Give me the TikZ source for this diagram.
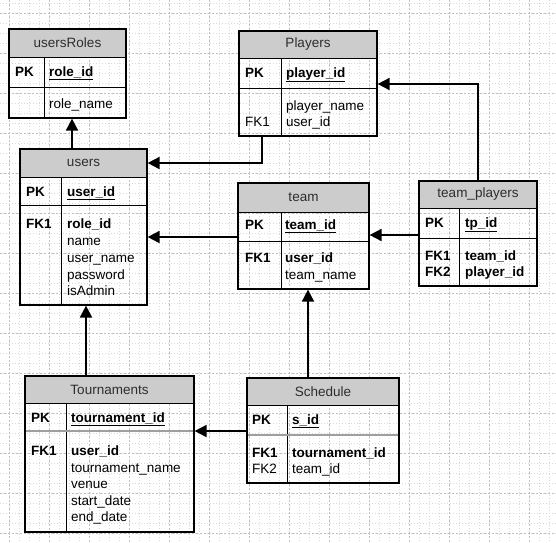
\documentclass[tikz,border=0pt]{standalone}
\usepackage{fontspec}
\setmainfont{Liberation Sans}
\usetikzlibrary{arrows.meta,fit}
\definecolor{hdrgray}{RGB}{204,204,204}
\definecolor{titlegray}{RGB}{45,45,45}
\tikzset{
  hdrfill/.style={fill=hdrgray},
  rowline/.style={line width=1pt, black},
  tblbox/.style={draw=black, line width=1.2pt, inner sep=0pt},
  titletext/.style={font=\fontsize{13.5}{16}\selectfont, text=titlegray, inner sep=0pt},
  fldtext/.style={font=\fontsize{13.5}{16}\selectfont, text=black, inner sep=0pt, anchor=base west},
  pkthick/.style={line width=2pt, gray!75},
  conn/.style={line width=1.8pt, black, -{Triangle[length=12pt,width=12pt]}},
  gridminor/.style={gray!30, line width=0.6pt, dash pattern=on 1pt off 2pt},
  gridmajor/.style={gray!50, line width=0.6pt, dash pattern=on 2pt off 2pt},
}
\newcommand{\ertab}[9]{%
  \fill[hdrfill] (#2,#3) rectangle (#4,#6);
  \draw[rowline] (#2,#6) -- (#4,#6);
  \draw[rowline] (#2,#7) -- (#4,#7);
  \draw[rowline] (#8,#6) -- (#8,#5);
  \node[tblbox, fit={(#2,#3) (#4,#5)}] (#1) {};
  \node[titletext] (#1-title) at ({(#2+#4)/2},{(#3+#6)/2}) {#9};
}
\newcommand{\fld}[4]{\node[fldtext] (#1) at (#2,#3) {#4};}
\newcommand{\pkf}[1]{\textbf{\underline{#1}}}
\begin{document}
\begin{tikzpicture}[x=1pt,y=-1pt]
\useasboundingbox (0,0) rectangle (556,542);
\fill[white] (0,0) rectangle (556,542);
% grid
\foreach \gx in {9,19,...,549} \draw[gridminor] (\gx,0) -- (\gx,542);
\foreach \gy in {3,13,...,539} \draw[gridminor] (0,\gy) -- (556,\gy);
\foreach \gx in {9,49,...,549} \draw[gridmajor] (\gx,0) -- (\gx,542);
\foreach \gy in {13,53,...,539} \draw[gridmajor] (0,\gy) -- (556,\gy);

% tables
\ertab{usersRoles}{9}{29}{126}{118}{57}{87}{44}{usersRoles}
\fld{ur-pk}{15}{76}{\textbf{PK}}
\fld{ur-f1}{49}{76}{\pkf{role\_id}}
\fld{ur-f2}{49}{108}{role\_name}

\ertab{Players}{239}{31}{377}{136}{58}{88}{281}{Players}
\fld{pl-pk}{245}{77}{\textbf{PK}}
\fld{pl-f1}{286}{77}{\pkf{player\_id}}
\fld{pl-f2}{286}{110}{player\_name}
\fld{pl-k3}{245}{126}{FK1}
\fld{pl-f3}{286}{126}{user\_id}

\ertab{users}{20}{149}{147}{305}{177}{205}{61}{users}
\fld{us-pk}{26}{196}{\textbf{PK}}
\fld{us-f1}{67}{196}{\pkf{user\_id}}
\fld{us-k2}{26}{228}{\textbf{FK1}}
\fld{us-f2}{67}{228}{\textbf{role\_id}}
\fld{us-f3}{67}{245}{name}
\fld{us-f4}{67}{262}{user\_name}
\fld{us-f5}{67}{279}{password}
\fld{us-f6}{67}{295}{isAdmin}

\ertab{team}{238}{183}{369}{289}{212}{241}{281}{team}
\fld{tm-pk}{245}{229}{\textbf{PK}}
\fld{tm-f1}{285}{229}{\pkf{team\_id}}
\fld{tm-k2}{245}{262}{\textbf{FK1}}
\fld{tm-f2}{285}{262}{\textbf{user\_id}}
\fld{tm-f3}{285}{279}{team\_name}

\ertab{team_players}{419}{181}{537}{286}{208}{238}{459}{team\_players}
\fld{tp-pk}{425}{227}{\textbf{PK}}
\fld{tp-f1}{465}{227}{\pkf{tp\_id}}
\fld{tp-k2}{425}{260}{\textbf{FK1}}
\fld{tp-f2}{465}{260}{\textbf{team\_id}}
\fld{tp-k3}{425}{276}{\textbf{FK2}}
\fld{tp-f3}{465}{276}{\textbf{player\_id}}

\ertab{Tournaments}{25}{376}{194}{532}{403}{431}{66}{Tournaments}
\draw[pkthick] (26,431) -- (193,431);
\fld{to-pk}{31}{422}{\textbf{PK}}
\fld{to-f1}{71}{422}{\pkf{tournament\_id}}
\fld{to-k2}{31}{455}{\textbf{FK1}}
\fld{to-f2}{71}{455}{\textbf{user\_id}}
\fld{to-f3}{71}{472}{tournament\_name}
\fld{to-f4}{71}{488}{venue}
\fld{to-f5}{71}{505}{start\_date}
\fld{to-f6}{71}{521}{end\_date}

\ertab{Schedule}{247}{378}{399}{483}{405}{435}{287}{Schedule}
\draw[pkthick] (248,435) -- (398,435);
\fld{sc-pk}{252}{424}{\textbf{PK}}
\fld{sc-f1}{292}{424}{\pkf{s\_id}}
\fld{sc-k2}{252}{457}{\textbf{FK1}}
\fld{sc-f2}{292}{457}{\textbf{tournament\_id}}
\fld{sc-k3}{252}{473}{FK2}
\fld{sc-f3}{292}{473}{team\_id}

% connector guide points
\coordinate (c1) at (72,0);
\coordinate (c2) at (262,163);
\coordinate (c3) at (0,237);
\coordinate (c4) at (0,235);
\coordinate (c5) at (478,84);
\coordinate (c6) at (308,0);
\coordinate (c7) at (0,431);
\coordinate (c8) at (86,0);

% connectors
\draw[conn] (users.north -| c1) -- (usersRoles.south -| c1);
\draw[conn] (Players.south -| c2) |- (users.east |- c2);
\draw[conn] (team.west |- c3) -- (users.east |- c3);
\draw[conn] (team_players.west |- c4) -- (team.east |- c4);
\draw[conn] (team_players.north -| c5) |- (Players.east |- c5);
\draw[conn] (Schedule.north -| c6) -- (team.south -| c6);
\draw[conn] (Schedule.west |- c7) -- (Tournaments.east |- c7);
\draw[conn] (Tournaments.north -| c8) -- (users.south -| c8);
\end{tikzpicture}
\end{document}
